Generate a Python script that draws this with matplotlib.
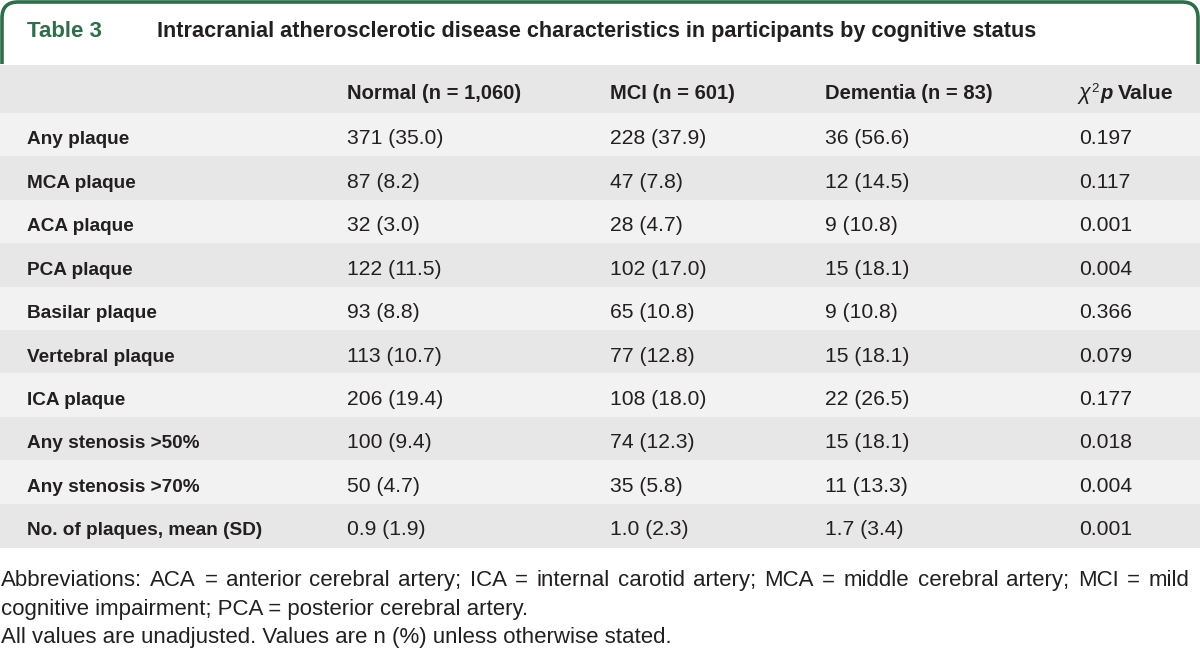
import matplotlib
matplotlib.use("Agg")
import matplotlib.pyplot as plt
from matplotlib.patches import FancyBboxPatch, Rectangle

plt.rcParams['font.family'] = ['Liberation Sans', 'DejaVu Sans']

table_label = "Table 3"
title = "Intracranial atherosclerotic disease characteristics in participants by cognitive status"
col_headers = ["Normal (n = 1,060)", "MCI (n = 601)", "Dementia (n = 83)"]
row_labels = ["Any plaque", "MCA plaque", "ACA plaque", "PCA plaque", "Basilar plaque",
              "Vertebral plaque", "ICA plaque", "Any stenosis >50%", "Any stenosis >70%",
              "No. of plaques, mean (SD)"]
normal = ["371 (35.0)", "87 (8.2)", "32 (3.0)", "122 (11.5)", "93 (8.8)", "113 (10.7)",
          "206 (19.4)", "100 (9.4)", "50 (4.7)", "0.9 (1.9)"]
mci = ["228 (37.9)", "47 (7.8)", "28 (4.7)", "102 (17.0)", "65 (10.8)", "77 (12.8)",
       "108 (18.0)", "74 (12.3)", "35 (5.8)", "1.0 (2.3)"]
dementia = ["36 (56.6)", "12 (14.5)", "9 (10.8)", "15 (18.1)", "9 (10.8)", "15 (18.1)",
            "22 (26.5)", "15 (18.1)", "11 (13.3)", "1.7 (3.4)"]
p_values = ["0.197", "0.117", "0.001", "0.004", "0.366", "0.079", "0.177", "0.018",
            "0.004", "0.001"]
footnotes = [
    "Abbreviations: ACA = anterior cerebral artery; ICA = internal carotid artery; MCA = middle cerebral artery; MCI = mild",
    "cognitive impairment; PCA = posterior cerebral artery.",
    "All values are unadjusted. Values are n (%) unless otherwise stated.",
]

GREEN = "#2f6d4b"
DARK = "#231f20"
BAND_DARK = "#e6e7e6"
BAND_LIGHT = "#f2f2f2"

fig = plt.figure(figsize=(12, 6.5), dpi=100)
ax = fig.add_axes([0, 0, 1, 1])
ax.set_xlim(0, 1200)
ax.set_ylim(650, 0)
ax.axis("off")
renderer = fig.canvas.get_renderer()

# title tab
tab = FancyBboxPatch((2.0, 2.0), 1196, 90, boxstyle="round,pad=0,rounding_size=16",
                     linewidth=2.6, edgecolor=GREEN, facecolor="white", zorder=1)
ax.add_patch(tab)
ax.add_patch(Rectangle((0, 64), 1200, 600, facecolor="white", edgecolor="none", zorder=2))
ax.text(27, 37, table_label, color=GREEN, fontsize=16, fontweight="bold",
        va="baseline", ha="left", zorder=3)
ax.text(157, 37, title, color=DARK, fontsize=15.6, fontweight="bold",
        va="baseline", ha="left", zorder=3)

# header band
ax.add_patch(Rectangle((0, 65), 1200, 48, facecolor=BAND_DARK, edgecolor="none", zorder=2))
col_x = [27, 347, 610, 825, 1079]
header_base = 99
HFS = 14.5
for x, h in zip(col_x[1:4], col_headers):
    ax.text(x, header_base, h, color=DARK, fontsize=HFS, fontweight="bold",
            va="baseline", ha="left", zorder=3)
# chi2 p value header
ax.text(1079, header_base, "χ", color=DARK, fontsize=HFS + 1, style="italic",
        va="baseline", ha="left", zorder=3)
ax.text(1091, header_base - 7, "2", color=DARK, fontsize=9.5, va="baseline", ha="left", zorder=3)
ax.text(1100, header_base, "p", color=DARK, fontsize=HFS, fontweight="bold", style="italic",
        va="baseline", ha="left", zorder=3)
ax.text(1118, header_base, "Value", color=DARK, fontsize=HFS + 0.8, fontweight="bold",
        va="baseline", ha="left", zorder=3)

# rows
row_top = 113.0
row_h = 43.4
for i, lab in enumerate(row_labels):
    top = row_top + i * row_h
    color = BAND_LIGHT if i % 2 == 0 else BAND_DARK
    ax.add_patch(Rectangle((0, top), 1200, row_h + 0.5, facecolor=color, edgecolor="none", zorder=2))
    base = top + 31.5
    ax.text(col_x[0], base, lab, color=DARK, fontsize=13.7, fontweight="bold",
            va="baseline", ha="left", zorder=3)
    for x, v in zip(col_x[1:], (normal[i], mci[i], dementia[i], p_values[i])):
        ax.text(x, base, v, color=DARK, fontsize=15.2, va="baseline", ha="left", zorder=3)

# footnotes
FFS = 16
foot_base = [586, 615, 643]
for j, line in enumerate(footnotes):
    if j == 0:
        # justified line
        words = line.split(" ")
        objs = [ax.text(0, foot_base[j], w, color=DARK, fontsize=FFS, va="baseline",
                        ha="left", zorder=3) for w in words]
        inv = ax.transData.inverted()
        widths = []
        for o in objs:
            bb = o.get_window_extent(renderer=renderer)
            x0 = inv.transform((bb.x0, bb.y0))[0]
            x1 = inv.transform((bb.x1, bb.y0))[0]
            widths.append(x1 - x0)
        left, right = 1.0, 1189.0
        gap = (right - left - sum(widths)) / (len(words) - 1)
        x = left
        for o, w in zip(objs, widths):
            o.set_x(x)
            x += w + gap
    else:
        ax.text(1, foot_base[j], line, color=DARK, fontsize=FFS, va="baseline",
                ha="left", zorder=3)

fig.savefig("out.png", dpi=100, facecolor="white")
